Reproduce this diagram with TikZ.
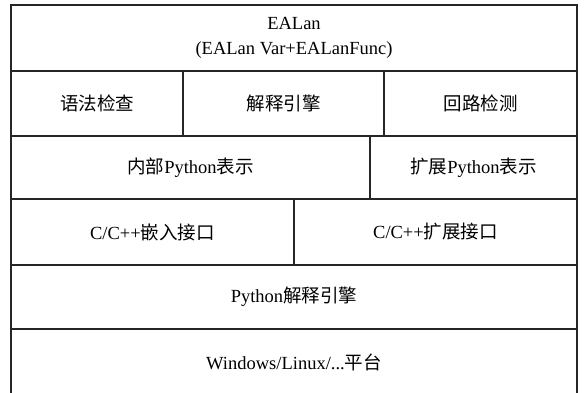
\documentclass[tikz,border=0pt]{standalone}
\usepackage{fontspec}
\setmainfont{Liberation Serif}
\newfontfamily\cjk{Noto Sans CJK SC}
\newcommand\zh[1]{{\cjk #1}}
\tikzset{
  cell/.style={draw=black!85, line width=1.6pt, inner sep=0pt, align=center,
    font=\fontsize{18.5}{25}\selectfont},
}
\begin{document}
\begin{tikzpicture}[x=1pt,y=-1pt]
\clip (0,0) rectangle (585,392);
\fill[white] (0,0) rectangle (585,392);
\node[cell, minimum width=566, minimum height=66] (top) at (294,38) {EALan\\(EALan Var+EALanFunc)};
\node[cell, minimum width=172, minimum height=65] (syntax) at (97,103.5) {\zh{语法检查}};
\node[cell, minimum width=201, minimum height=65] (engine) at (283.5,103.5) {\zh{解释引擎}};
\node[cell, minimum width=193, minimum height=65] (loop) at (480.5,103.5) {\zh{回路检测}};
\node[cell, minimum width=359, minimum height=63] (inner) at (190.5,167.5) {\zh{内部}Python\zh{表示}};
\node[cell, minimum width=207, minimum height=63] (ext) at (473.5,167.5) {\zh{扩展}Python\zh{表示}};
\node[cell, minimum width=283, minimum height=66] (embed) at (152.5,232) {C/C++\zh{嵌入接口}};
\node[cell, minimum width=283, minimum height=66] (extif) at (435.5,232) {C/C++\zh{扩展接口}};
\node[cell, minimum width=566, minimum height=64] (py) at (294,297) {Python\zh{解释引擎}};
\node[cell, minimum width=566, minimum height=66] (os) at (294,362) {Windows/Linux/...\zh{平台}};
\end{tikzpicture}
\end{document}
